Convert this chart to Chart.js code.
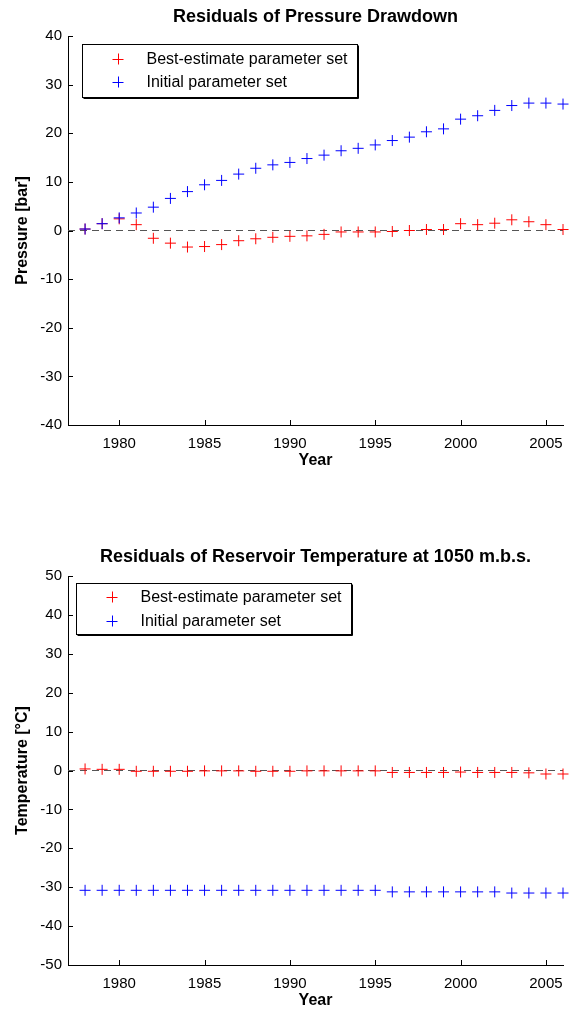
<!DOCTYPE html>
<html><head><meta charset="utf-8">
<script src="https://cdn.jsdelivr.net/npm/chart.js@4/dist/chart.umd.min.js"></script>
<style>
html,body{margin:0;padding:0;background:#fff;width:575px;height:1010px;overflow:hidden;position:relative}
canvas{position:absolute;left:0}
#c1{top:0}
#c2{top:540px}
</style></head><body>
<canvas id="c1" width="575" height="470"></canvas>
<canvas id="c2" width="575" height="470"></canvas>
<script>
// ---- data ----
const years = [1978,1979,1980,1981,1982,1983,1984,1985,1986,1987,1988,1989,1990,1991,1992,1993,1994,1995,1996,1997,1998,1999,2000,2001,2002,2003,2004,2005,2006];
const pressureBest = [0.3,1.4,2.4,1.2,-1.6,-2.6,-3.4,-3.3,-2.9,-2.1,-1.7,-1.4,-1.2,-1.1,-0.8,-0.3,-0.3,-0.3,-0.2,0.0,0.2,0.2,1.4,1.2,1.5,2.2,1.8,1.2,0.2];
const pressureInitial = [0.3,1.4,2.6,3.6,4.8,6.6,8.0,9.4,10.3,11.6,12.8,13.5,14.0,14.8,15.5,16.4,16.9,17.6,18.5,19.2,20.3,20.9,22.9,23.6,24.7,25.7,26.2,26.2,26.0];
const tempBest = [0.4,0.3,0.3,-0.2,-0.2,-0.2,-0.2,-0.1,-0.1,-0.1,-0.2,-0.2,-0.2,-0.1,-0.1,-0.1,-0.1,-0.1,-0.5,-0.5,-0.5,-0.5,-0.4,-0.5,-0.5,-0.5,-0.6,-0.9,-0.9];
const tempInitial = [-30.8,-30.8,-30.8,-30.8,-30.8,-30.8,-30.8,-30.8,-30.8,-30.8,-30.8,-30.8,-30.8,-30.8,-30.8,-30.8,-30.8,-30.8,-31.2,-31.2,-31.2,-31.2,-31.2,-31.2,-31.2,-31.5,-31.5,-31.5,-31.5];
const xTicks = [1980,1985,1990,1995,2000,2005];
const xRange = [1977,2006];
const pressureTicks = [-40,-30,-20,-10,0,10,20,30,40];
const tempTicks = [-50,-40,-30,-20,-10,0,10,20,30,40,50];
const seriesLabels = ['Best-estimate parameter set','Initial parameter set'];
const seriesColors = ['#ff0000','#0000ff'];

Chart.defaults.font.family = "'Liberation Sans', Arial, Helvetica, sans-serif";
Chart.defaults.color = '#000';

const inTicks = {
  id: 'inTicks',
  afterDraw(chart) {
    const {ctx, chartArea: a, scales: {x, y}} = chart;
    ctx.save();
    ctx.strokeStyle = '#000'; ctx.lineWidth = 1;
    ctx.beginPath();
    x.ticks.forEach(t => { const px = Math.round(x.getPixelForValue(t.value)) + 0.5; ctx.moveTo(px, a.bottom); ctx.lineTo(px, a.bottom - 5); });
    y.ticks.forEach(t => { const py = Math.round(y.getPixelForValue(t.value)) + 0.5; ctx.moveTo(a.left, py); ctx.lineTo(a.left + 5, py); });
    ctx.stroke();
    ctx.restore();
  }
};

const boxLegend = {
  id: 'boxLegend',
  afterDraw(chart, args, opts) {
    const {ctx, chartArea: a} = chart;
    const L = Math.round(a.left + opts.dx) + 0.5, T = Math.round(a.top + opts.dy) + 0.5;
    const W = opts.w, H = opts.h;
    ctx.save();
    ctx.fillStyle = '#fff';
    ctx.fillRect(L, T, W, H);
    ctx.strokeStyle = '#000'; ctx.lineWidth = 1;
    ctx.strokeRect(L, T, W, H);
    ctx.beginPath();
    ctx.moveTo(L + 1, T + H + 1); ctx.lineTo(L + W + 1, T + H + 1); ctx.lineTo(L + W + 1, T + 1);
    ctx.stroke();
    const ds = chart.data.datasets.filter(d => seriesLabels.includes(d.label));
    ds.forEach((d, i) => {
      const ry = Math.round(T + opts.rows[i]);
      const mx = Math.round(L + 35);
      ctx.strokeStyle = d.borderColor; ctx.lineWidth = 1;
      ctx.beginPath();
      ctx.moveTo(mx - 5.5, ry + 0.5); ctx.lineTo(mx + 5.5, ry + 0.5);
      ctx.moveTo(mx + 0.5, ry - 5.5); ctx.lineTo(mx + 0.5, ry + 5.5);
      ctx.stroke();
      ctx.fillStyle = '#000';
      ctx.font = "16px 'Liberation Sans', Arial, sans-serif";
      ctx.textBaseline = 'middle';
      ctx.textAlign = 'left';
      ctx.fillText(d.label, L + 64, ry + 1);
    });
    ctx.restore();
  }
};

function makeChart(id, titleText, yTitle, best, init, yTicks, legendOpts) {
  const series = [best, init].map((arr, i) => ({
    label: seriesLabels[i],
    data: years.map((yr, k) => ({x: yr, y: arr[k]})),
    borderColor: seriesColors[i],
    backgroundColor: seriesColors[i],
    pointStyle: 'cross',
    pointRadius: 5.5,
    pointBorderWidth: 1,
    showLine: false,
    clip: false,
    order: i === 0 ? 2 : 1
  }));
  const zero = {
    label: 'zero',
    type: 'line',
    data: [{x: xRange[0], y: 0}, {x: xRange[1], y: 0}],
    borderColor: '#555',
    borderWidth: 1,
    borderDash: [7, 5],
    pointRadius: 0,
    order: 3
  };
  return new Chart(document.getElementById(id), {
    type: 'scatter',
    data: {datasets: [...series, zero]},
    options: {
      responsive: false,
      animation: false,
      events: [],
      layout: {padding: {left: 0, right: 12, top: 0, bottom: 0}},
      plugins: {
        legend: {display: false},
        tooltip: {enabled: false},
        title: {display: true, text: titleText, fullSize: false, color: '#000',
          font: {size: 18, weight: 'bold'}, padding: {top: 6, bottom: 8.4}},
        boxLegend: legendOpts
      },
      scales: {
        x: {
          type: 'linear', min: xRange[0], max: xRange[1],
          afterBuildTicks: s => { s.ticks = xTicks.map(v => ({value: v})); },
          afterFit: s => { s.height = 45; },
          grid: {display: false, drawTicks: false},
          border: {display: true, color: '#000', width: 1},
          ticks: {padding: 10, font: {size: 15}, color: '#000', maxRotation: 0, autoSkip: false, callback: v => String(v)},
          title: {display: true, text: 'Year', color: '#000', font: {size: 16, weight: 'bold'}, padding: {top: 0, bottom: 0}}
        },
        y: {
          min: yTicks[0], max: yTicks[yTicks.length - 1],
          afterBuildTicks: s => { s.ticks = yTicks.map(v => ({value: v})); },
          afterFit: s => { s.width = 68; },
          grid: {display: false, drawTicks: false},
          border: {display: true, color: '#000', width: 1},
          ticks: {padding: 6, font: {size: 15}, color: '#000', autoSkip: false, callback: v => String(v)},
          title: {display: true, text: yTitle, color: '#000', font: {size: 16, weight: 'bold'}, padding: {top: 13, bottom: 0}}
        }
      }
    },
    plugins: [inTicks, boxLegend]
  });
}

makeChart('c1', 'Residuals of Pressure Drawdown', 'Pressure [bar]', pressureBest, pressureInitial, pressureTicks,
  {dx: 14, dy: 8, w: 275, h: 53, rows: [14, 37]});
makeChart('c2', 'Residuals of Reservoir Temperature at 1050 m.b.s.', 'Temperature [°C]', tempBest, tempInitial, tempTicks,
  {dx: 8, dy: 7, w: 275, h: 51, rows: [13, 37]});
</script>
</body></html>
